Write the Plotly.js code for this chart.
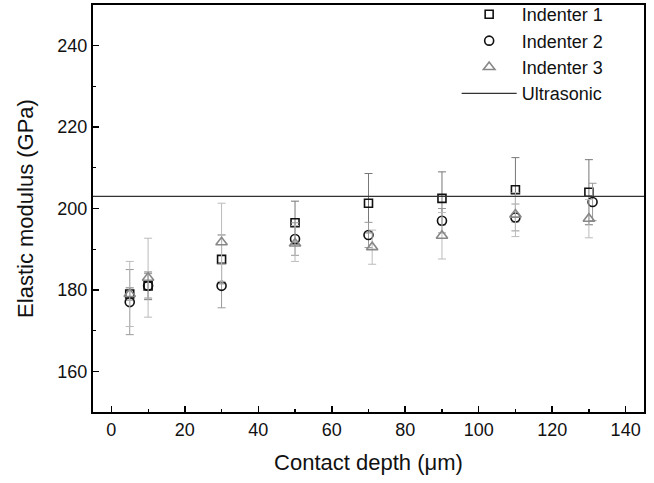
<!DOCTYPE html>
<html>
<head>
<meta charset="utf-8">
<script src="https://cdn.plot.ly/plotly-3.0.1.min.js"></script>
<style>html,body{margin:0;padding:0;background:#fff;}#chart{width:654px;height:483px;}</style>
</head>
<body>
<div id="chart"></div>
<script>
// Indenter 1 (squares)
const x1 = [5, 10, 30, 50, 70, 90, 110, 130];
const y1 = [179, 181, 187.5, 196.5, 201.3, 202.5, 204.6, 204];
const e1 = [1.5, 3.4, 6, 5.3, 7.3, 6.5, 7.9, 8];
// Indenter 2 (circles)
const x2 = [5, 10, 30, 50, 70, 90, 110, 131];
const y2 = [177, 181, 181, 192.5, 193.5, 197, 197.8, 201.6];
const e2 = [8, 3, 5.4, 4, 3.1, 3, 3.3, 4.6];
// Indenter 3 (triangles)
const x3 = [5, 10, 30, 50, 71, 90, 110, 130];
const y3 = [179, 183, 191.7, 191.4, 190.5, 193.3, 198.5, 197.5];
const e3 = [8, 9.7, 9.6, 4.4, 4.2, 5.7, 5.4, 4.7];
// Ultrasonic reference
const ultrasonicX = [-5, 145];
const ultrasonicY = [203, 203];

const xTicks = [0, 20, 40, 60, 80, 100, 120, 140];
const yTicks = [160, 180, 200, 220, 240];

const font = "Liberation Sans, Arial, sans-serif";

const traces = [
  {x: x1, y: y1, type: 'scatter', mode: 'markers', name: 'Indenter 1',
   marker: {symbol: 'square-open', size: 8, color: '#111', line: {width: 1.6, color: '#111'}},
   error_y: {type: 'data', array: e1, visible: true, color: '#777', thickness: 1, width: 4}},
  {x: x2, y: y2, type: 'scatter', mode: 'markers', name: 'Indenter 2',
   marker: {symbol: 'circle-open', size: 9, color: '#111', line: {width: 1.6, color: '#111'}},
   error_y: {type: 'data', array: e2, visible: true, color: '#999', thickness: 1, width: 4}},
  {x: x3, y: y3, type: 'scatter', mode: 'markers', name: 'Indenter 3',
   marker: {symbol: 'triangle-up-open', size: 10, color: '#888', line: {width: 1.6, color: '#888'}},
   error_y: {type: 'data', array: e3, visible: true, color: '#bbb', thickness: 1, width: 4}},
  {x: ultrasonicX, y: ultrasonicY, type: 'scatter', mode: 'lines', name: 'Ultrasonic',
   line: {color: '#333', width: 1.2}}
];

const layout = {
  width: 654, height: 483,
  margin: {l: 93, r: 10, t: 5, b: 71, autoexpand: false},
  paper_bgcolor: '#fff', plot_bgcolor: '#fff',
  font: {family: font, color: '#111', size: 18},
  showlegend: true,
  legend: {x: 0.66, xanchor: 'left', y: 1.022, yanchor: 'top', bgcolor: 'rgba(0,0,0,0)',
           font: {family: font, size: 18, color: '#111'}, tracegroupgap: 0, itemwidth: 55},
  xaxis: {
    range: [-5, 145], tickvals: xTicks, ticktext: xTicks.map(String),
    ticks: 'inside', ticklen: 6, tickwidth: 1.5, tickcolor: '#000',
    minor: {dtick: 10, ticks: 'inside', ticklen: 3, tickwidth: 1.2, tickcolor: '#000'},
    showline: true, linewidth: 2, linecolor: '#000', mirror: true,
    showgrid: false, zeroline: false,
    tickfont: {family: font, size: 18, color: '#111'},
    title: {text: 'Contact depth (μm)', font: {family: font, size: 22, color: '#111'}, standoff: 16}
  },
  yaxis: {
    range: [150, 250], tickvals: yTicks, ticktext: yTicks.map(String),
    ticks: 'inside', ticklen: 6, tickwidth: 1.5, tickcolor: '#000',
    minor: {dtick: 10, ticks: 'inside', ticklen: 3, tickwidth: 1.2, tickcolor: '#000'},
    showline: true, linewidth: 2, linecolor: '#000', mirror: true,
    showgrid: false, zeroline: false,
    tickfont: {family: font, size: 18, color: '#111'},
    title: {text: 'Elastic modulus (GPa)', font: {family: font, size: 22, color: '#111'}, standoff: 18}
  }
};

Plotly.newPlot('chart', traces, layout, {displayModeBar: false, staticPlot: true});
</script>
</body>
</html>
